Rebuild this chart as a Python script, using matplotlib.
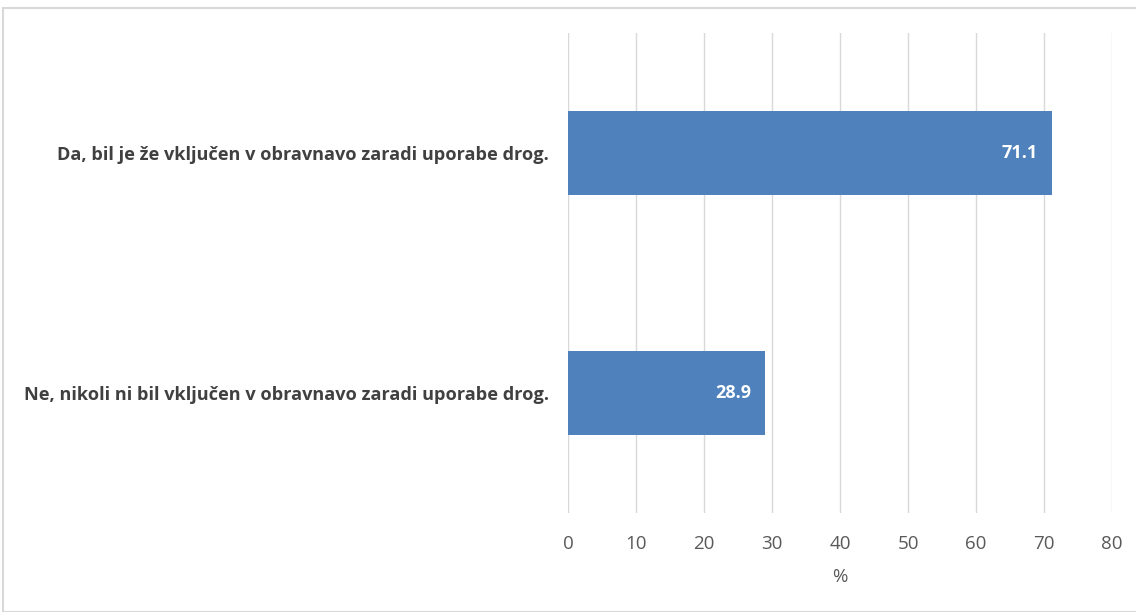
import matplotlib
matplotlib.use("Agg")
import matplotlib.pyplot as plt
from matplotlib.patches import Rectangle

categories = [
    "Da, bil je že vključen v obravnavo zaradi uporabe drog.",
    "Ne, nikoli ni bil vključen v obravnavo zaradi uporabe drog.",
]
values = [71.1, 28.9]
xticks = [0, 10, 20, 30, 40, 50, 60, 70, 80]

plt.rcParams['font.family'] = ['Open Sans', 'DejaVu Sans']

fig = plt.figure(figsize=(11.36, 6.12), dpi=100)
ax = fig.add_axes([0.5, 0.162, 0.4789, 0.784])

# okvir grafa
fig.patches.append(Rectangle((3 / 1136, 0), 1.2, (612 - 8) / 612, transform=fig.transFigure,
                             fill=False, edgecolor='#D9D9D9', lw=1.5))

ypos = list(range(len(categories)))
bars = ax.barh(ypos, values, height=0.35, color='#4F81BD')
for b, v in zip(bars, values):
    ax.text(b.get_width() - 2.0, b.get_y() + b.get_height() / 2, f"{v:.1f}",
            ha='right', va='center', color='white', fontsize=13, fontweight='bold')

ax.set_ylim(1.5, -0.5)
ax.set_xlim(0, 80)
ax.set_xticks(xticks)
ax.set_yticks(ypos)
ax.set_yticklabels(categories, fontsize=13.05, fontweight='bold', color='#404040')
ax.tick_params(axis='x', length=0, labelsize=13.5, labelcolor='#595959', pad=16)
ax.tick_params(axis='y', length=0, pad=14)
ax.grid(axis='x', color='#D9D9D9', lw=1)
ax.set_axisbelow(True)
for s in ax.spines.values():
    s.set_visible(False)
ax.set_xlabel('%', fontsize=13.5, color='#595959', labelpad=11)

plt.savefig("out.png", dpi=100)
